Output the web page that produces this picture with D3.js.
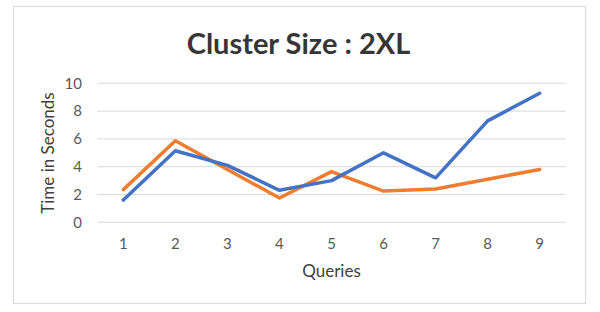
<!DOCTYPE html>
<html>
<head>
<meta charset="utf-8">
<script src="https://cdn.jsdelivr.net/npm/d3@7"></script>
<style>
  body { margin: 0; background: #fff; }
  svg { display: block; }
</style>
</head>
<body>
<main></main>
<script>
let svgWidth  = 600;
let svgHeight = 312;

const queries   = [1, 2, 3, 4, 5, 6, 7, 8, 9];
const blueTimes   = [1.6, 5.15, 4.1, 2.3, 3.0, 5.0, 3.2, 7.3, 9.28];
const orangeTimes = [2.35, 5.87, 3.8, 1.75, 3.65, 2.25, 2.4, 3.1, 3.8];
const yTicks    = [0, 2, 4, 6, 8, 10];

const titleText = 'Cluster Size : 2XL';
const yTitle    = 'Time in Seconds';
const xTitle    = 'Queries';

const plot = { left: 97.3, right: 565.7, top: 83.3, bottom: 222.3 };
const font = 'Lato, "Open Sans", sans-serif';
const textColor = '#595959';

var svg = d3.select('body main')
  .append('svg')
  .attr('width', svgWidth)
  .attr('height', svgHeight);

// chart frame
svg.append('rect')
  .attr('x', 13.5).attr('y', 6.5)
  .attr('width', 572).attr('height', 297)
  .attr('fill', '#fff')
  .attr('stroke', '#d9d9d9')
  .attr('stroke-width', 1);

let x = d3.scaleBand()
  .domain(queries)
  .range([plot.left, plot.right]);

let y = d3.scaleLinear()
  .domain([0, 10])
  .range([plot.bottom, plot.top]);

// gridlines
svg.append('g')
  .selectAll('line')
  .data(yTicks)
  .enter()
    .append('line')
    .attr('x1', plot.left)
    .attr('x2', plot.right)
    .attr('y1', function(d) { return y(d); })
    .attr('y2', function(d) { return y(d); })
    .attr('stroke', '#d9d9d9')
    .attr('stroke-width', 1);

// y tick labels
svg.append('g')
  .selectAll('text')
  .data(yTicks)
  .enter()
    .append('text')
    .attr('x', 82)
    .attr('y', function(d) { return y(d); })
    .attr('dy', '0.35em')
    .attr('text-anchor', 'end')
    .attr('font-family', font)
    .attr('font-size', '15px')
    .attr('fill', textColor)
    .text(function(d) { return d; });

// x tick labels
svg.append('g')
  .selectAll('text')
  .data(queries)
  .enter()
    .append('text')
    .attr('x', function(d) { return x(d) + x.bandwidth() / 2; })
    .attr('y', 244)
    .attr('dy', '0.35em')
    .attr('text-anchor', 'middle')
    .attr('font-family', font)
    .attr('font-size', '15px')
    .attr('fill', textColor)
    .text(function(d) { return d; });

// lines
let line = d3.line()
  .x(function(d, i) { return x(queries[i]) + x.bandwidth() / 2; })
  .y(function(d) { return y(d); });

[[orangeTimes, '#ED7D31'], [blueTimes, '#4472C4']].forEach(function(s) {
  svg.append('path')
    .datum(s[0])
    .attr('d', line)
    .attr('fill', 'none')
    .attr('stroke', s[1])
    .attr('stroke-width', 3.5)
    .attr('stroke-linejoin', 'round')
    .attr('stroke-linecap', 'round');
});

// title
svg.append('text')
  .attr('x', 298.5)
  .attr('y', 54)
  .attr('text-anchor', 'middle')
  .attr('font-family', font)
  .attr('font-weight', 'bold')
  .attr('font-size', '29px')
  .attr('fill', '#363636')
  .text(titleText);

// axis titles
svg.append('text')
  .attr('transform', 'translate(54,153) rotate(-90)')
  .attr('text-anchor', 'middle')
  .attr('font-family', font)
  .attr('font-size', '17px')
  .attr('fill', '#404040')
  .text(yTitle);

svg.append('text')
  .attr('x', 331.5)
  .attr('y', 277)
  .attr('text-anchor', 'middle')
  .attr('font-family', font)
  .attr('font-size', '17px')
  .attr('fill', '#404040')
  .text(xTitle);
</script>
</body>
</html>
